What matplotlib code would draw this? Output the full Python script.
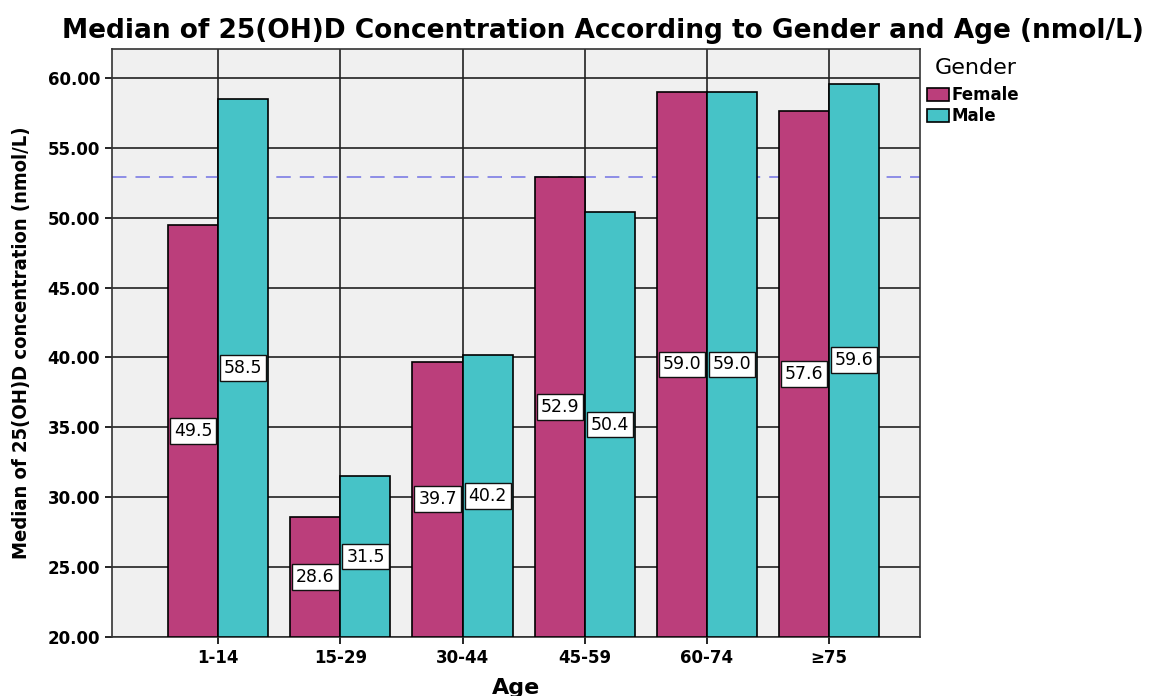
import matplotlib.pyplot as plt
import numpy as np

# data
age_groups = ["1-14", "15-29", "30-44", "45-59", "60-74", "≥75"]
female = [49.5, 28.6, 39.7, 52.9, 59.0, 57.6]
male = [58.5, 31.5, 40.2, 50.4, 59.0, 59.6]
female_labels = ["49.5", "28.6", "39.7", "52.9", "59.0", "57.6"]
male_labels = ["58.5", "31.5", "40.2", "50.4", "59.0", "59.6"]
reference_line = 52.9
y_base = 20.0

female_color = "#BB3E7B"
male_color = "#46C3C7"

fig = plt.figure(figsize=(11.62, 6.96), dpi=100)
ax = fig.add_axes([0.0964, 0.0848, 0.6953, 0.8448])
ax.set_facecolor("#F0F0F0")

x = np.arange(len(age_groups))
width = 0.41

ax.bar(x - width / 2, np.array(female) - y_base, width, bottom=y_base,
       color=female_color, edgecolor="black", linewidth=1.2, zorder=3, label="Female")
ax.bar(x + width / 2, np.array(male) - y_base, width, bottom=y_base,
       color=male_color, edgecolor="black", linewidth=1.2, zorder=3, label="Male")

# labels sit halfway up each bar
box = dict(boxstyle="square,pad=0.22", facecolor="white", edgecolor="#111111", linewidth=1)
for i in range(len(age_groups)):
    ax.text(x[i] - width / 2, (y_base + female[i]) / 2, female_labels[i], ha="center", va="center",
            fontsize=12.5, bbox=box, zorder=5)
    ax.text(x[i] + width / 2, (y_base + male[i]) / 2, male_labels[i], ha="center", va="center",
            fontsize=12.5, bbox=box, zorder=5)

ax.axhline(reference_line, color="#8585E6", linestyle=(0, (8, 5)), linewidth=1.3, zorder=2)

ax.set_ylim(20, 62.07)
ax.set_xlim(-0.87, 5.745)
ax.set_yticks(np.arange(20, 61, 5))
ax.set_yticklabels([f"{v:.2f}" for v in np.arange(20, 61, 5)])
ax.set_xticks(x)
ax.set_xticklabels(age_groups)
ax.grid(True, color="#222222", linewidth=1.2, zorder=1)
ax.set_axisbelow(True)
for s in ax.spines.values():
    s.set_linewidth(1.2)
    s.set_color("#333333")
ax.tick_params(axis="both", labelsize=12, length=5, width=1.2, direction="out")
for t in ax.get_yticklabels() + ax.get_xticklabels():
    t.set_fontweight("bold")

ax.set_xlabel("Age", fontsize=16, fontweight="bold", labelpad=8)
ax.set_ylabel("Median of 25(OH)D concentration (nmol/L)", fontsize=14.5, fontweight="bold",
              fontstretch="condensed", labelpad=12)

fig.text(0.0535, 0.955, "Median of 25(OH)D Concentration According to Gender and Age (nmol/L)",
         fontsize=19.0, fontweight="bold", ha="left", va="center")

# legend title drawn separately so the gap matches
fig.text(935 / 1162, 1 - 68 / 696, "Gender", fontsize=16, ha="left", va="center")
leg = fig.legend(loc="upper left", bbox_to_anchor=(927 / 1162, 1 - 86 / 696), frameon=False,
                 fontsize=12, handlelength=1.3, handleheight=0.85,
                 handletextpad=0.15, labelspacing=0.2, borderaxespad=0, borderpad=0)
for t in leg.get_texts():
    t.set_fontweight("bold")

fig.savefig("out.png", dpi=100)
